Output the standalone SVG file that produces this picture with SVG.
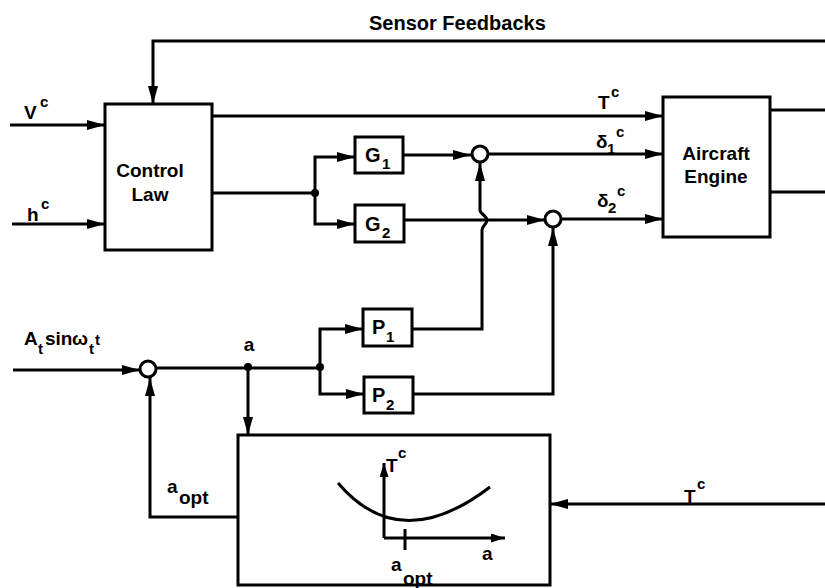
<svg xmlns="http://www.w3.org/2000/svg" width="825" height="588" viewBox="0 0 825 588">
<defs>
<marker id="ah" viewBox="0 0 18 10" refX="18" refY="5" markerWidth="18" markerHeight="10" markerUnits="userSpaceOnUse" orient="auto"><path d="M0,0 L18,5 L0,10 z" fill="#000"/></marker>
<marker id="ahs" viewBox="0 0 14 9" refX="14" refY="4.5" markerWidth="14" markerHeight="9" markerUnits="userSpaceOnUse" orient="auto"><path d="M0,0 L14,4.5 L0,9 z" fill="#000"/></marker>
</defs>
<style>
.box{fill:#fff;stroke:#000;stroke-width:3}
.ln{fill:none;stroke:#000;stroke-width:3}
.ar{fill:none;stroke:#000;stroke-width:3;marker-end:url(#ah)}
.sj{fill:#fff;stroke:#000;stroke-width:3}
text{font-family:"Liberation Sans",Arial,sans-serif;font-weight:bold;fill:#000}
.t{font-size:19px}
.h{font-size:20px}
.l{font-size:19px}
.s{font-size:15px}
</style>
<rect width="825" height="588" fill="#fff"/>

<g id="connectors">
<path class="ar" d="M825,41 H153 V104"/>
<path class="ar" d="M10,125 H105"/>
<path class="ar" d="M12,224 H105"/>
<path class="ar" d="M212,116 H663"/>
<path class="ln" d="M212,193 H315"/>
<path class="ar" d="M315,193 V157 H355"/>
<path class="ar" d="M315,193 V224 H355"/>
<circle cx="315" cy="193" r="4" fill="#000"/>
<path class="ar" d="M403,155 H471"/>
<path class="ar" d="M489,154 H663"/>
<path class="ar" d="M404,220 H545"/>
<path class="ar" d="M561,219 H663"/>
<path class="ar" d="M412,329 H482 V230 C482,226 487,224 487,220 C487,216 480,214 480,210 V163"/>
<path class="ar" d="M413,394 H553 V228"/>
<path class="ar" d="M13,370 H140"/>
<path class="ln" d="M156,368 H320"/>
<circle cx="248" cy="367" r="4" fill="#000"/>
<circle cx="320" cy="367" r="4" fill="#000"/>
<path class="ar" d="M320,367 V329 H363"/>
<path class="ar" d="M320,367 V394 H364"/>
<path class="ar" d="M248,367 V435"/>
<path class="ar" d="M238,517 H150 V378"/>
<path class="ar" d="M825,504 H550"/>
<path class="ln" d="M770,110 H825"/>
<path class="ln" d="M770,192 H825"/>
</g>

<g id="labels">
<text class="h" x="369" y="30">Sensor Feedbacks</text>
<text class="l" x="24" y="119">V</text><text class="s" x="40" y="107">c</text>
<text class="l" x="27" y="221">h</text><text class="s" x="41" y="209">c</text>
<text class="l" x="598" y="109">T</text><text class="s" x="611" y="97">c</text>
<text class="l" x="596" y="148">δ</text><text class="s" x="607" y="154">1</text><text class="s" x="616" y="137">c</text>
<text class="l" x="597" y="207">δ</text><text class="s" x="608" y="213">2</text><text class="s" x="617" y="196">c</text>
<text class="l" x="24" y="345">A</text><text class="s" x="38" y="354">t</text><text class="l" x="45" y="345">sin</text><text class="l" x="72" y="345">ω</text><text class="s" x="89" y="354">t</text><text class="s" x="95" y="345">t</text>
<text class="l" x="249" y="351" text-anchor="middle">a</text>
<text class="l" x="167" y="493">a</text><text class="l" x="179" y="504">opt</text>
<text class="l" x="684" y="503">T</text><text class="s" x="697" y="489">c</text>
</g>

<g id="control-law">
<rect class="box" x="105" y="104" width="107" height="146"/>
<text class="t" x="150" y="177" text-anchor="middle">Control</text>
<text class="t" x="150" y="201" text-anchor="middle">Law</text>
</g>

<g id="aircraft-engine">
<rect class="box" x="663" y="97" width="107" height="140"/>
<text class="t" x="716" y="160" text-anchor="middle">Aircraft</text>
<text class="t" x="716" y="183" text-anchor="middle">Engine</text>
</g>

<g id="G1">
<rect class="box" x="355" y="137" width="48" height="36"/>
<text class="h" x="365" y="162">G</text><text class="s" x="382" y="169">1</text>
</g>
<g id="G2">
<rect class="box" x="355" y="205" width="49" height="37"/>
<text class="h" x="365" y="231">G</text><text class="s" x="382" y="238">2</text>
</g>
<g id="P1">
<rect class="box" x="363" y="309" width="49" height="37"/>
<text class="h" x="372" y="334">P</text><text class="s" x="386" y="342">1</text>
</g>
<g id="P2">
<rect class="box" x="364" y="377" width="49" height="36"/>
<text class="h" x="372" y="402">P</text><text class="s" x="386" y="410">2</text>
</g>

<g id="sum0"><circle class="sj" cx="148" cy="369" r="8"/></g>
<g id="sum1"><circle class="sj" cx="480" cy="154" r="8"/></g>
<g id="sum2"><circle class="sj" cx="553" cy="219" r="8"/></g>

<g id="optimizer">
<rect class="box" x="238" y="435" width="312" height="150"/>
<path class="ln" d="M338,483 Q400,556 490,487" stroke-width="2.5"/>
<path class="ln" d="M384,538 V463" style="marker-end:url(#ahs)"/>
<path class="ln" d="M384,538 H505" style="marker-end:url(#ahs)"/>
<path class="ln" d="M405,529 V550"/>
<text class="l" x="386" y="472">T</text><text class="s" x="398" y="458">c</text>
<text class="l" x="482" y="560">a</text>
<text class="l" x="391" y="571">a</text><text class="l" x="403" y="585">opt</text>
</g>
</svg>
